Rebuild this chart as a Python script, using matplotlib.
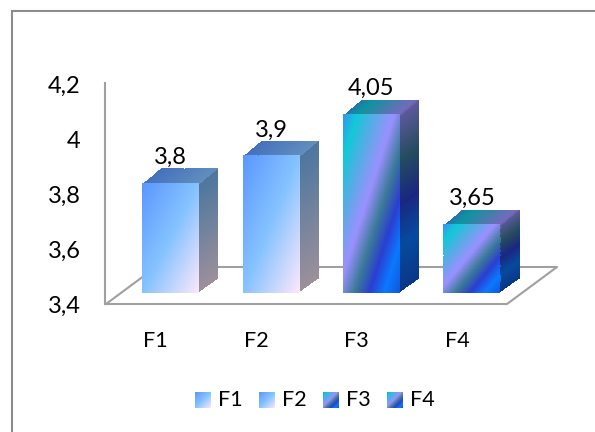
import matplotlib
matplotlib.use("Agg")
import matplotlib.pyplot as plt
import numpy as np
from matplotlib.colors import LinearSegmentedColormap, to_rgb

categories = ["F1", "F2", "F3", "F4"]
values = [3.8, 3.9, 4.05, 3.65]
value_labels = ["3,8", "3,9", "4,05", "3,65"]
y_ticks = [3.4, 3.6, 3.8, 4.0, 4.2]
y_tick_labels = ["3,4", "3,6", "3,8", "4", "4,2"]

BASE = 3.4
W, H = 595, 432
SLOT = 100.5  # pixels per category
UNIT = 275.0  # pixels per 1.0 on the value axis
X0 = 170.5  # pixel centre of first bar
Y0 = 293.0  # pixel row of the value 3.4 on the bars' front plane

BAR_W = 57 / SLOT
DEPTH_X = 19 / SLOT
DEPTH_Y = 14.5 / UNIT
GREY = "#a0a0a0"

pale_stops = [(0.0, "#5a96ff"), (0.5, "#85c2ff"), (1.0, "#fce8fa")]
neon_stops = [
    (0.0, "#3a90f0"),
    (0.12, "#10c8d8"),
    (0.3, "#60a8e8"),
    (0.45, "#9a90ff"),
    (0.6, "#3a7a98"),
    (0.73, "#2a3ed0"),
    (0.86, "#0a78ff"),
    (1.0, "#1058d8"),
]
bar_stops = [pale_stops, pale_stops, neon_stops, neon_stops]


def make_cmap(stops, shade=1.0):
    cols = [(t, tuple(shade * c for c in to_rgb(col))) for t, col in stops]
    return LinearSegmentedColormap.from_list("grad", cols)


def face(ax, tl, tr, bl, br, t_func, cmap, zorder=3):
    # fill a four-cornered face with a gradient; u runs left-right, v top-down
    n = 90
    u, v = np.meshgrid(np.linspace(0, 1, n + 1), np.linspace(0, 1, n + 1))
    xs = (1 - v) * ((1 - u) * tl[0] + u * tr[0]) + v * ((1 - u) * bl[0] + u * br[0])
    ys = (1 - v) * ((1 - u) * tl[1] + u * tr[1]) + v * ((1 - u) * bl[1] + u * br[1])
    uc = (u[:-1, :-1] + u[1:, 1:]) / 2
    vc = (v[:-1, :-1] + v[1:, 1:]) / 2
    ax.pcolormesh(xs, ys, t_func(uc, vc), cmap=cmap, vmin=0, vmax=1,
                  shading="flat", antialiased=False, linewidth=0, zorder=zorder)


def px_x(p):
    return (p - X0) / SLOT


def px_y(p):
    return BASE + (Y0 - p) / UNIT


plt.rcParams["font.family"] = ["Lato", "DejaVu Sans"]

fig = plt.figure(figsize=(5.95, 4.32), dpi=100)
ax = fig.add_axes([0, 0, 1, 1])
ax.set_xlim(px_x(0), px_x(W))
ax.set_ylim(px_y(H), px_y(0))
ax.axis("off")

# outer chart border, only top and left are visible
ax.plot([px_x(12), px_x(12), px_x(W)], [px_y(H), px_y(11), px_y(11)],
        color="#8c8c8c", lw=1.5, solid_joinstyle="miter", zorder=1)

# floor and value axis
floor_x = [106, 507, 557, 156, 106]
floor_y = [304, 304, 267, 267, 304]
ax.plot([px_x(p) for p in floor_x], [px_y(p) for p in floor_y],
        color=GREY, lw=1.5, zorder=1)
ax.plot([px_x(105), px_x(105)], [px_y(304), px_y(304) + 0.8 + 0.003],
        color=GREY, lw=1.5, zorder=1)

# tick labels sit on the front edge of the floor
axis_offset = px_y(304) - BASE
for tick, label in zip(y_ticks, y_tick_labels):
    ax.text(px_x(80.5), tick + axis_offset - 9 / UNIT, label, ha="right",
            va="baseline", fontsize=17, color="black")

# small overlap so side and top faces tuck under the front face
tuck_x = 1.5 / SLOT
tuck_y = 1.5 / UNIT

for i, (val, stops) in enumerate(zip(values, bar_stops)):
    left, right = i - BAR_W / 2, i + BAR_W / 2
    top_right = (right + DEPTH_X, val + DEPTH_Y)
    top_left = (left + DEPTH_X, val + DEPTH_Y)
    base_right = (right + DEPTH_X, BASE + DEPTH_Y)

    face(ax, (right - tuck_x, val), top_right, (right - tuck_x, BASE), base_right,
         lambda u, v: 0.45 + 0.55 * v, make_cmap(stops, 0.62), zorder=3)
    face(ax, top_left, top_right, (left, val - tuck_y), (right, val - tuck_y),
         lambda u, v: 0.03 + 0.45 * u, make_cmap(stops, 0.74), zorder=3.5)
    face(ax, (left, val), (right, val), (left, BASE), (right, BASE),
         lambda u, v: (u + v) / 2, make_cmap(stops), zorder=4)

    ax.text(i, val + 19 / UNIT, value_labels[i], ha="center", va="baseline",
            fontsize=17, color="black", zorder=5)
    ax.text(i - 15 / SLOT, px_y(347), categories[i], ha="center", va="baseline",
            fontsize=15.5, color="black")

    # legend entry
    sx = 195 + 64 * i
    face(ax, (px_x(sx), px_y(392)), (px_x(sx + 16), px_y(392)),
         (px_x(sx), px_y(408)), (px_x(sx + 16), px_y(408)),
         lambda u, v: (u + v) / 2, make_cmap(stops))
    ax.text(px_x(sx + 23), px_y(406), categories[i], ha="left", va="baseline",
            fontsize=15.5, color="black")

fig.savefig("out.png", dpi=100)
